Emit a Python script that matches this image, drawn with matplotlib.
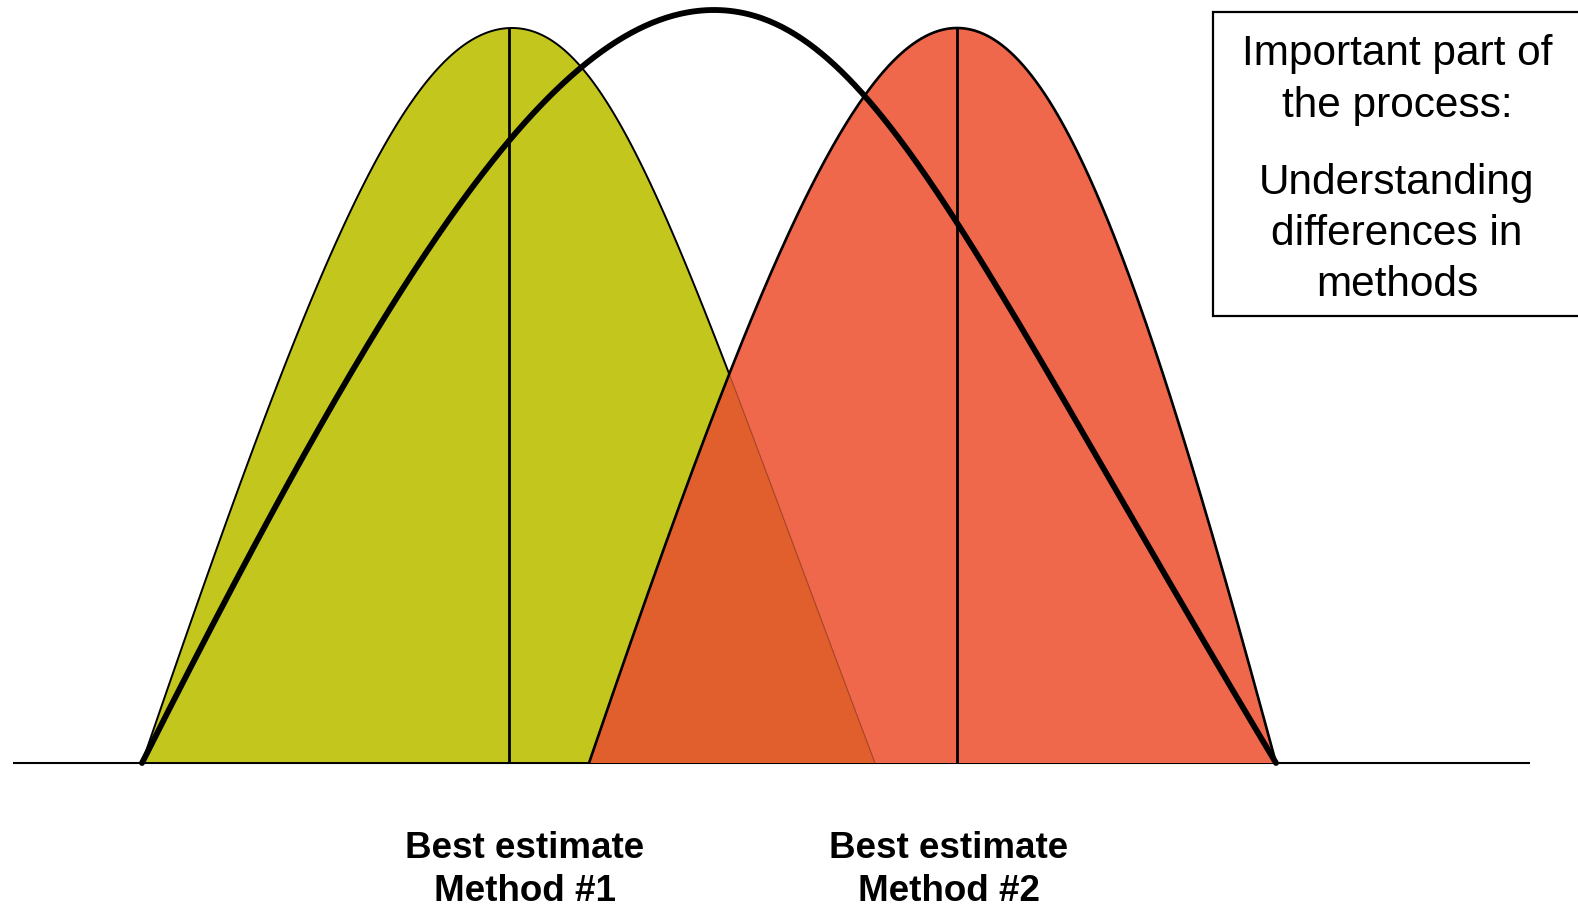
import numpy as np
import matplotlib
matplotlib.use("Agg")
import matplotlib.pyplot as plt
from matplotlib.path import Path
from matplotlib.patches import PathPatch, Rectangle

# ---- data (x in px, height above baseline in px) ----
green_x = [142, 165, 200, 234, 270, 310, 357, 415, 455, 512, 570, 601, 657, 701, 739, 777, 816, 850, 875]
green_h = [0, 63, 163, 263, 363, 463, 563, 663, 713, 735, 713, 663, 563, 463, 363, 263, 163, 63, 0]

red_x = [589, 611, 646, 683, 718, 758, 803, 868, 900, 957, 1007, 1049, 1099, 1139, 1171, 1202, 1231, 1257, 1276]
red_h = [0, 63, 163, 263, 363, 463, 563, 663, 713, 735, 713, 663, 563, 463, 363, 263, 163, 63, 0]

black_x = [142, 173, 224, 278, 336, 393, 466, 550, 630, 714, 798, 860, 942, 1003, 1066, 1124, 1181, 1238, 1276]
black_h = [0, 63, 163, 263, 363, 463, 563, 663, 733, 753, 733, 663, 563, 463, 363, 263, 163, 63, 0]

estimate_x = [509, 957]
estimate_h = [735, 735]
labels = ["Best estimate\nMethod #1", "Best estimate\nMethod #2"]
label_x = [525, 949]
box_lines_1 = "Important part of\nthe process:"
box_lines_2 = "Understanding\ndifferences in\nmethods"

GREEN = "#c3c71d"
RED = "#ef684c"
OVERLAP = "#e05f2c"


def smooth_path(xs, hs, closed=False, npts=200):
    """Smooth drawing path through the read points: each half of the hump is
    drawn as a low-order least-squares curve x(u), u = sqrt(1 - h/H)."""
    x = np.asarray(xs, float)
    h = np.asarray(hs, float)
    k = int(np.argmax(h))
    H = h[k]
    out = []
    for idx, rev in ((np.arange(0, k + 1), False), (np.arange(k, len(x)), True)):
        u = np.sqrt(np.clip(1 - h[idx] / H, 0, 1))
        w = np.ones(len(idx))
        w[h[idx] == 0] = 20
        w[h[idx] == H] = 20
        c = np.polyfit(u, x[idx], 3, w=w)
        uu = np.linspace(0, 1, npts)
        xx = np.polyval(c, uu)
        hh = H * (1 - uu ** 2)
        if not rev:
            xx, hh = xx[::-1], hh[::-1]
        else:
            xx, hh = xx[1:], hh[1:]
        out.append(np.column_stack([xx, hh]))
    verts = np.vstack(out)
    if closed:
        verts = np.vstack([verts, verts[:1]])
    codes = [Path.MOVETO] + [Path.LINETO] * (len(verts) - 1)
    return Path(verts, codes)


plt.rcParams['font.family'] = ['Liberation Sans', 'DejaVu Sans']
fig = plt.figure(figsize=(15.78, 9.06), dpi=100)
ax = fig.add_axes([0, 0, 1, 1])
ax.set_xlim(0, 1578)
ax.set_ylim(-143, 763)
ax.axis("off")

gpath = smooth_path(green_x, green_h, True)
rpath = smooth_path(red_x, red_h, True)
bpath = smooth_path(black_x, black_h, False)

# green fill
ax.add_patch(PathPatch(gpath, facecolor=GREEN, edgecolor="black", lw=1.4, zorder=2))
# red fill
red_patch = PathPatch(rpath, facecolor=RED, edgecolor="none", zorder=3)
ax.add_patch(red_patch)
# overlap region
ov = PathPatch(gpath, facecolor=OVERLAP, edgecolor="none", zorder=4)
ax.add_patch(ov)
ov.set_clip_path(red_patch)
ov_edge = PathPatch(smooth_path(green_x, green_h, False), facecolor="none",
                    edgecolor="#7a3018", lw=0.8, alpha=0.6, zorder=5)
ax.add_patch(ov_edge)
ov_edge.set_clip_path(red_patch)
# red outline
ax.add_patch(PathPatch(smooth_path(red_x, red_h, False), facecolor="none",
                       edgecolor="black", lw=1.9, zorder=6))

# best estimate vertical lines
ax.vlines(estimate_x, 0, estimate_h, colors="black", lw=2.0, zorder=7)

# wide black curve
ax.add_patch(PathPatch(bpath, facecolor="none", edgecolor="black", lw=4.2,
                       capstyle="round", joinstyle="round", zorder=8))

# baseline
ax.plot([13, 1530], [0, 0], color="black", lw=1.5, zorder=1, solid_capstyle="butt")

# labels
for lx, lab in zip(label_x, labels):
    ax.text(lx, -107, lab, ha="center", va="center", fontsize=26.5, fontweight="bold",
            linespacing=1.26, color="black")

# box
ax.add_patch(Rectangle((1213, 763 - 316), 400, 304, facecolor="white",
                       edgecolor="black", lw=1.6, zorder=9, clip_on=True))
ax.text(1397, 763 - 80, box_lines_1, ha="center", va="center", fontsize=30.5,
        linespacing=1.36, zorder=10)
ax.text(1397, 763 - 234, box_lines_2, ha="center", va="center", fontsize=30.5,
        linespacing=1.36, zorder=10)

fig.savefig("out.png", dpi=100)
